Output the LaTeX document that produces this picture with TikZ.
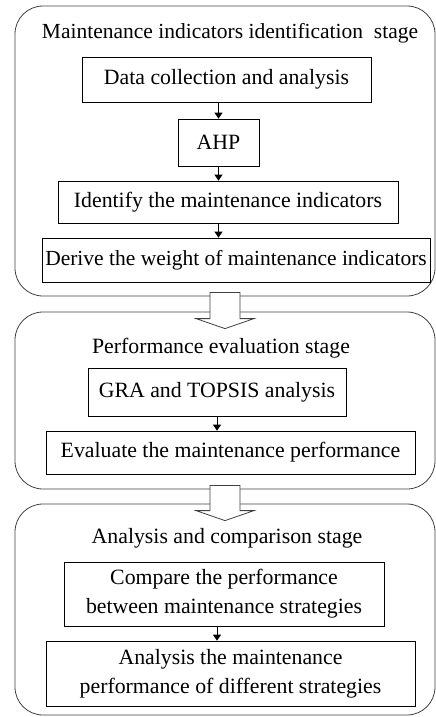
\documentclass[tikz,border=0pt]{standalone}
\usepackage{fontspec}
\setmainfont{Liberation Serif}
\usetikzlibrary{calc,arrows.meta}
\tikzset{
	stagebox/.style={draw=black!75, line width=0.8pt, rounded corners=28pt, minimum width=420pt},
	stepbox/.style={draw, line width=0.7pt, inner sep=0pt, align=center},
	flow/.style={-{Triangle[length=6pt,width=8pt]}, line width=0.9pt},
	every node/.style={font=\fontsize{21.8}{29}\selectfont}
}
\def\hollowarrow(#1)(#2){\draw[line width=0.8pt, draw=black!75, fill=white] let \p1=(#1.south), \p2=(#2.north) in
	(\x1-15pt,\y1+4pt) -- (\x1-15pt,\y2-7pt) -- (\x1-29pt,\y2-7pt) -- (\x1,\y2-17pt)
	-- (\x1+29pt,\y2-7pt) -- (\x1+15pt,\y2-7pt) -- (\x1+15pt,\y1+4pt) -- cycle;}

\begin{document}
\begin{tikzpicture}[x=1pt, y=-1pt]
	%%%%% START %%%%%
	\useasboundingbox (0,0) rectangle (436,717);
	
	\node[stagebox, minimum height=290pt] (s1) at (225,151) {};
	\node[stagebox, minimum height=177pt] (s2) at (225,400.5) {};
	\node[stagebox, minimum height=211pt] (s3) at (225,609.5) {};
	
	\hollowarrow(s1)(s2)
	\hollowarrow(s2)(s3)
	
	% identification stage
	\node[font=\fontsize{21.5}{29}\selectfont] (t1) at (230,33) {Maintenance indicators identification\ \ stage};
	\node[stepbox, minimum width=289pt, minimum height=45pt] (data) at (226.5,79.5) {Data collection and analysis};
	\node[stepbox, minimum width=81pt, minimum height=47pt] (ahp) at (218.5,142.5) {AHP};
	\node[stepbox, minimum width=340pt, minimum height=42pt] (ident) at (228,202) {Identify the maintenance indicators};
	\node[stepbox, minimum width=388pt, minimum height=44pt, font=\fontsize{21.5}{29}\selectfont] (derive) at (236,260) {Derive the weight of maintenance indicators};
	
	\draw[flow] (ahp.north |- data.south) -- (ahp.north);
	\draw[flow] (ahp.south) -- (ahp.south |- ident.north);
	\draw[flow] (ahp.south |- ident.south) -- (ahp.south |- derive.north);
	
	% evaluation stage
	\node (t2) at (221,348) {Performance evaluation stage};
	\node[stepbox, minimum width=258pt, minimum height=48pt] (gra) at (217,392) {GRA and TOPSIS analysis};
	\node[stepbox, minimum width=369pt, minimum height=43pt] (eval) at (230.5,452.5) {Evaluate the maintenance performance};
	
	\draw[flow] (gra.south) -- (gra.south |- eval.north);
	
	% comparison stage
	\node (t3) at (227,538) {Analysis and comparison stage};
	\node[stepbox, minimum width=320pt, minimum height=64pt] (compare) at (224,594) {Compare the performance\\between maintenance strategies};
	\node[stepbox, minimum width=369pt, minimum height=65pt] (analysis) at (230.5,673.5) {Analysis the maintenance\\performance of different strategies};
	
	\draw[flow] (gra.south |- compare.south) -- (gra.south |- analysis.north);
	
	%%%%% END %%%%%
\end{tikzpicture}
\end{document}
